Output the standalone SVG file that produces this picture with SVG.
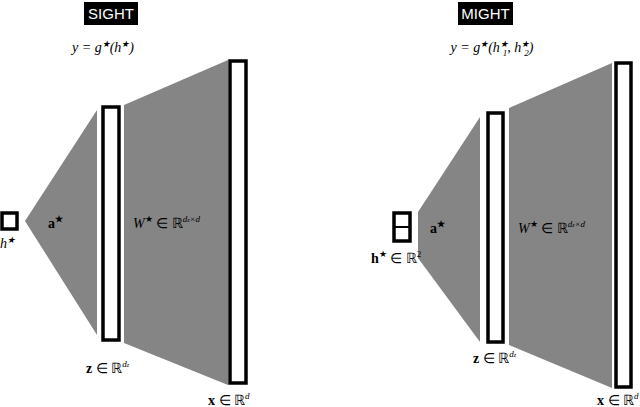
<svg xmlns="http://www.w3.org/2000/svg" width="640" height="407" viewBox="0 0 640 407">
<style>
.sh{fill:#858585}
.bx{fill:#fff;stroke:#000;stroke-width:3.5}
.m{font-family:"Liberation Serif",serif;font-size:14px;fill:#000}
.b{font-weight:bold}
.t{font-family:"Liberation Sans",sans-serif;font-size:15px;fill:#fff}
.s{font-size:9px}
</style>
<g id="sight">
<rect x="84" y="2" width="54" height="23" fill="#000"/>
<text class="t" x="111" y="19" text-anchor="middle">SIGHT</text>
<text class="m" x="103" y="52" text-anchor="middle" font-style="italic">y = g<tspan class="s" dy="-5">★</tspan><tspan dy="5">(h</tspan><tspan class="s" dy="-5">★</tspan><tspan dy="5">)</tspan></text>
</g>
<g id="connectors">
<polygon class="sh" points="25,221 97,110 97,335"/>
<polygon class="sh" points="124,105 228,60 228,385 124,343"/>
<polygon class="sh" points="418,212 480,117 480,342 418,258"/>
<polygon class="sh" points="509,108 612,63 612,388 509,345"/>
</g>
<g id="h1"><rect class="bx" x="2" y="213" width="15" height="16"/><text class="m" x="0" y="248" font-style="italic">h<tspan class="s" dy="-5">★</tspan></text></g>
<g id="z1"><rect class="bx" x="103" y="107" width="16" height="233"/><text class="m" x="86" y="373"><tspan class="b">z</tspan> ∈ ℝ<tspan class="s" dy="-6" font-style="italic">d<tspan font-size="6">z</tspan></tspan></text></g>
<g id="x1"><rect class="bx" x="230" y="61" width="16" height="322"/><text class="m" x="208" y="405"><tspan class="b">x</tspan> ∈ ℝ<tspan class="s" dy="-6" font-style="italic">d</tspan></text></g>
<text class="m b" x="48" y="228">a<tspan class="s" dy="-6">★</tspan></text>
<text class="m" x="133" y="228"><tspan font-style="italic">W</tspan><tspan class="s" dy="-6">★</tspan><tspan dy="6"> ∈ ℝ</tspan><tspan class="s" dy="-6" font-style="italic">d<tspan font-size="6">z</tspan>×d</tspan></text>
<g id="might">
<rect x="458" y="2" width="55" height="23" fill="#000"/>
<text class="t" x="485.5" y="19" text-anchor="middle">MIGHT</text>
<text class="m" x="492" y="52" text-anchor="middle" font-style="italic">y = g<tspan class="s" dy="-5">★</tspan><tspan dy="5">(h</tspan><tspan class="s" dy="-5">★</tspan><tspan class="s" dx="-5" dy="9">1</tspan><tspan dy="-4">, h</tspan><tspan class="s" dy="-5">★</tspan><tspan class="s" dx="-5" dy="9">2</tspan><tspan dy="-4">)</tspan></text>
</g>
<g id="h2"><rect class="bx" x="394" y="213" width="16" height="28"/><line x1="394" y1="227" x2="410" y2="227" stroke="#000" stroke-width="2"/><text class="m" x="371" y="263"><tspan class="b">h</tspan><tspan class="s" dy="-6">★</tspan><tspan dy="6"> ∈ ℝ</tspan><tspan class="s" dy="-6">2</tspan></text></g>
<g id="z2"><rect class="bx" x="488" y="113" width="15" height="229"/><text class="m" x="473" y="363"><tspan class="b">z</tspan> ∈ ℝ<tspan class="s" dy="-6" font-style="italic">d<tspan font-size="6">z</tspan></tspan></text></g>
<g id="x2"><rect class="bx" x="616" y="63" width="15" height="324"/><text class="m" x="597" y="405"><tspan class="b">x</tspan> ∈ ℝ<tspan class="s" dy="-6" font-style="italic">d</tspan></text></g>
<text class="m b" x="430" y="233">a<tspan class="s" dy="-6">★</tspan></text>
<text class="m" x="518" y="233"><tspan font-style="italic">W</tspan><tspan class="s" dy="-6">★</tspan><tspan dy="6"> ∈ ℝ</tspan><tspan class="s" dy="-6" font-style="italic">d<tspan font-size="6">z</tspan>×d</tspan></text>
</svg>
